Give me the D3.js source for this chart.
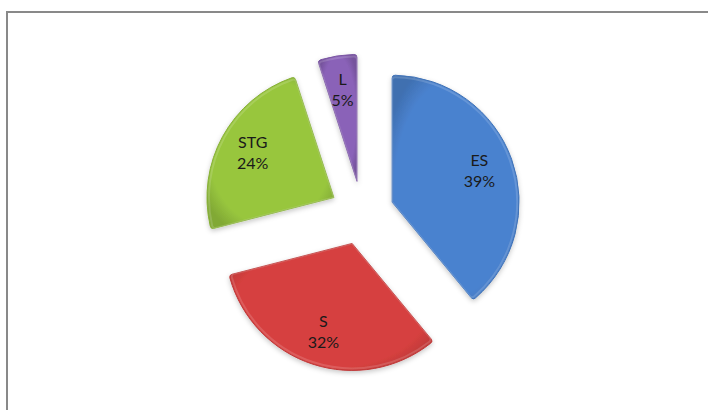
<!DOCTYPE html>
<html>
<head>
<meta charset="utf-8">
<script src="https://cdn.jsdelivr.net/npm/d3@7"></script>
<style>
  html, body { margin: 0; padding: 0; background: #fff; }
  svg { display: block; }
</style>
</head>
<body>
<svg id="vis"></svg>
<script>
const width = 708,
      height = 410;

// data
const categories = ["ES", "S", "STG", "L"];
const shares = [39, 32, 24, 5];
const colors = ["#4a82cf", "#d6403f", "#98c63e", "#8a62b8"];

let center = { x: 362, y: 213 },
    radius = 127,
    explode = 32,
    labelRatio = 0.73;

const svg = d3.select("#vis")
  .attr("width", width)
  .attr("height", height);

// chart frame
svg.append("path")
  .attr("d", `M7,${height + 5} V12 H${width + 5}`)
  .attr("fill", "none")
  .attr("stroke", "#898989")
  .attr("stroke-width", 2);

const defs = svg.append("defs");

const shadow = defs.append("filter")
  .attr("id", "shadow")
  .attr("x", "-20%").attr("y", "-20%")
  .attr("width", "140%").attr("height", "140%");
shadow.append("feDropShadow")
  .attr("dx", 0).attr("dy", 2)
  .attr("stdDeviation", 2.5)
  .attr("flood-color", "#000")
  .attr("flood-opacity", 0.22);

colors.forEach((c, i) => {
  const g = defs.append("radialGradient")
    .attr("id", "grad" + i)
    .attr("cx", "50%").attr("cy", "50%").attr("r", "60%");
  g.append("stop").attr("offset", "0%").attr("stop-color", c);
  g.append("stop").attr("offset", "80%").attr("stop-color", c);
  g.append("stop").attr("offset", "100%").attr("stop-color", d3.color(c).darker(0.45));
});

const pie = d3.pie().sort(null).value(d => d);
const arcs = pie(shares);

const arc = d3.arc()
  .innerRadius(0)
  .outerRadius(radius)
  .cornerRadius(3);

const chart = svg.append("g")
  .attr("transform", `translate(${center.x},${center.y})`);

const slices = chart.selectAll("g.slice")
  .data(arcs)
  .join("g")
    .attr("class", "slice")
    .attr("transform", d => {
      const a = (d.startAngle + d.endAngle) / 2;
      return `translate(${Math.sin(a) * explode},${-Math.cos(a) * explode})`;
    });

slices.append("path")
  .attr("d", arc)
  .attr("fill", (d, i) => `url(#grad${i})`)
  .attr("stroke", (d, i) => d3.color(colors[i]).darker(0.35))
  .attr("stroke-width", 1)
  .attr("filter", "url(#shadow)");

// soft highlight along the edges, like the bevel in the original
slices.append("path")
  .attr("d", d3.arc().innerRadius(0).outerRadius(radius - 2).cornerRadius(3))
  .attr("fill", "none")
  .attr("stroke", "#fff")
  .attr("stroke-opacity", 0.15)
  .attr("stroke-width", 2);

const labels = slices.append("text")
  .attr("text-anchor", "middle")
  .attr("font-family", "Lato, 'Open Sans', sans-serif")
  .attr("font-size", 16)
  .attr("fill", "#1a1a1a")
  .attr("transform", d => {
    const a = (d.startAngle + d.endAngle) / 2,
          r = radius * labelRatio;
    return `translate(${Math.sin(a) * r},${-Math.cos(a) * r})`;
  });

labels.append("tspan")
  .attr("x", 0)
  .attr("y", -5)
  .text((d, i) => categories[i]);

labels.append("tspan")
  .attr("x", 0)
  .attr("y", 16)
  .text(d => d.data + "%");
</script>
</body>
</html>
